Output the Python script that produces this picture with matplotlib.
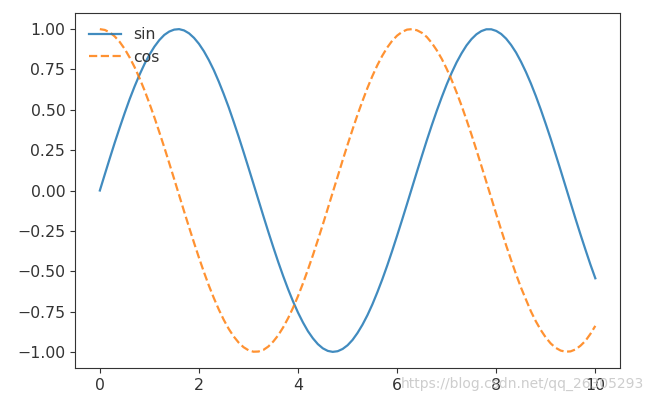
import numpy as np
import matplotlib
matplotlib.use('Agg')
import matplotlib.pyplot as plt

# values, x step 0.1
x = np.round(np.arange(0, 101) * 0.1, 1)
sin_y = [0.000, 0.100, 0.199, 0.296, 0.389, 0.479, 0.565, 0.644, 0.717, 0.783,
         0.841, 0.891, 0.932, 0.964, 0.985, 0.997, 1.000, 0.992, 0.974, 0.946,
         0.909, 0.863, 0.808, 0.746, 0.675, 0.598, 0.516, 0.427, 0.335, 0.239,
         0.141, 0.042, -0.058, -0.158, -0.256, -0.351, -0.443, -0.530, -0.612, -0.688,
         -0.757, -0.818, -0.872, -0.916, -0.952, -0.978, -0.994, -1.000, -0.996, -0.982,
         -0.959, -0.926, -0.883, -0.832, -0.773, -0.706, -0.631, -0.551, -0.465, -0.374,
         -0.279, -0.182, -0.083, 0.017, 0.117, 0.215, 0.312, 0.405, 0.494, 0.578,
         0.657, 0.729, 0.794, 0.850, 0.899, 0.938, 0.968, 0.988, 0.999, 0.999,
         0.989, 0.970, 0.941, 0.902, 0.855, 0.798, 0.734, 0.663, 0.585, 0.501,
         0.412, 0.320, 0.223, 0.125, 0.025, -0.075, -0.175, -0.272, -0.366, -0.458,
         -0.544]
cos_y = [1.000, 0.995, 0.980, 0.955, 0.921, 0.878, 0.825, 0.765, 0.697, 0.622,
         0.540, 0.454, 0.362, 0.268, 0.170, 0.071, -0.029, -0.129, -0.227, -0.323,
         -0.416, -0.505, -0.589, -0.666, -0.737, -0.801, -0.857, -0.904, -0.942, -0.971,
         -0.990, -0.999, -0.998, -0.988, -0.967, -0.936, -0.897, -0.848, -0.791, -0.726,
         -0.654, -0.575, -0.490, -0.401, -0.307, -0.211, -0.112, -0.012, 0.087, 0.187,
         0.284, 0.378, 0.469, 0.554, 0.635, 0.709, 0.776, 0.835, 0.886, 0.928,
         0.960, 0.983, 0.997, 1.000, 0.993, 0.977, 0.951, 0.914, 0.869, 0.816,
         0.754, 0.685, 0.608, 0.526, 0.438, 0.347, 0.251, 0.153, 0.054, -0.046,
         -0.146, -0.244, -0.340, -0.431, -0.519, -0.602, -0.676, -0.749, -0.811, -0.865,
         -0.911, -0.948, -0.975, -0.992, -0.999, -0.997, -0.985, -0.962, -0.932, -0.889,
         -0.839]
labels = ['sin', 'cos']

plt.rcParams['font.size'] = 11.3
plt.rcParams['text.color'] = '#333333'
plt.rcParams['xtick.color'] = '#333333'
plt.rcParams['ytick.color'] = '#333333'
plt.rcParams['axes.edgecolor'] = '#333333'

fig = plt.figure(figsize=(6.5, 4), dpi=100)
ax = fig.add_axes([0.1155, 0.08, 0.8385, 0.8875])

ax.plot(x, sin_y, '-', color='#1f77b4', lw=1.6, alpha=0.85, label=labels[0])
ax.plot(x, cos_y, '--', color='#ff7f0e', lw=1.6, alpha=0.85, label=labels[1])
ax.set_yticks([-1.0, -0.75, -0.5, -0.25, 0.0, 0.25, 0.5, 0.75, 1.0])
ax.legend(loc='upper left', frameon=False)

# blog watermark
fig.text(0.99, 0.022, 'https://blog.csdn.net/qq_26305293', ha='right', va='bottom',
         fontsize=10.0, color='#c8c8c8', alpha=0.9)

fig.savefig('out.png', dpi=100)
